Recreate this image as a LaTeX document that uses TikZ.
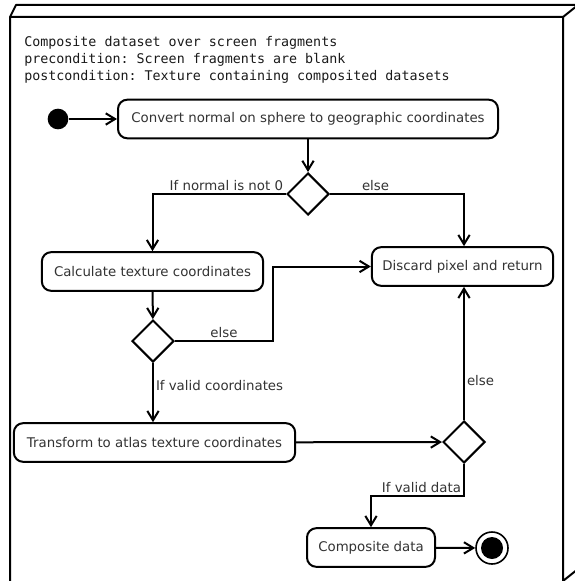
\documentclass[tikz,border=0pt]{standalone}
\usepackage{fontspec}
\setmainfont{DejaVu Sans}
\setmonofont{DejaVu Sans Mono}
\usetikzlibrary{shapes}
\usetikzlibrary{arrows.meta}
\tikzset{
    action/.style = {rectangle, rounded corners=7pt, line width=1.5pt, draw=black, fill=white, inner sep=0pt, minimum height=29pt, text=black!80, font=\fontsize{10}{12}\selectfont},
    decision/.style = {diamond, line width=1.5pt, draw=black, fill=white, inner sep=0pt, minimum width=31.5pt, minimum height=31.5pt},
    startnode/.style = {circle, fill=black, inner sep=0pt, minimum size=15.5pt},
    endnode/.style = {circle, line width=1.2pt, draw=black, inner sep=0pt, minimum size=24pt},
    enddot/.style = {circle, fill=black, inner sep=0pt, minimum size=16.5pt},
    guard/.style = {inner sep=1.5pt, text=black!80, font=\fontsize{10}{12}\selectfont},
    edgen/.style = {-{Straight Barb[length=7pt,width=8.5pt]}, line width=1.5pt}, % flow
    frame/.style = {line width=1.5pt, draw=black, line join=round}
}
\begin{document}
\begin{tikzpicture}[x=0.75pt, y=-0.75pt]
\useasboundingbox (0,0) rectangle (574,581);
%
% node box (back right edge lies outside the crop)
\draw[frame] (10,581) -- (10,17) -- (16,5) -- (578,5);
\draw[frame] (10,17) -- (563,17) -- (578,5);
\draw[frame] (563,17) -- (563,581) -- (578,569);
\node[anchor=north west, inner sep=0pt, align=left, text=black!90, font=\ttfamily\fontsize{10}{12.75}\selectfont] at (24,36) (spec)
  {Composite dataset over screen fragments\\precondition: Screen fragments are blank\\postcondition: Texture containing composited datasets};
%
\node[startnode] at (58,119) (start) {};
\node[action, minimum width=285pt] at (308,119) (convert) {Convert normal on sphere to geographic coordinates};
\node[decision] at (308,194) (d1) {};
\node[action, minimum width=166pt] at (152.5,271.5) (calc) {Calculate texture coordinates};
\node[action, minimum width=136pt] at (462.5,266.5) (discard) {Discard pixel and return};
\node[decision] at (153,341) (d2) {};
\node[action, minimum width=211pt] at (154.5,442.5) (trans) {Transform to atlas texture coordinates};
\node[decision] at (464,442) (d3) {};
\node[action, minimum width=96pt] at (371,547.5) (comp) {Composite data};
\node[endnode] at (492,548) (stop) {};
\node[enddot] at (492,548) (stopdot) {};
\coordinate (elbow) at (273,341);
\coordinate (bend) at (464,496);
%
\draw[edgen] (start) -- (convert);
\draw[edgen] (convert) -- (d1);
\draw[edgen] (d1.west) -| node[guard, pos=0, above left] {If normal is not 0} (calc.north);
\draw[edgen] (d1.east) -| node[guard, pos=0.17, above] {else} (discard.north -| d3);
\draw[edgen] (calc) -- (d2);
\draw[edgen] (d2.east) -- node[guard, above] {else} (elbow) |- (discard.west);
\draw[edgen] (d2.south) -- node[guard, pos=0.38, right] {If valid coordinates} (trans.north -| d2);
\draw[edgen] (trans) -- (d3);
\draw[edgen] (d3.north) -- node[guard, pos=0.3, right] {else} (d3 |- discard.south);
\draw[edgen] (d3.south) -- (bend) node[guard, above left] {If valid data} -| (comp.north);
\draw[edgen] (comp) -- (stop);

\end{tikzpicture}
\end{document}
